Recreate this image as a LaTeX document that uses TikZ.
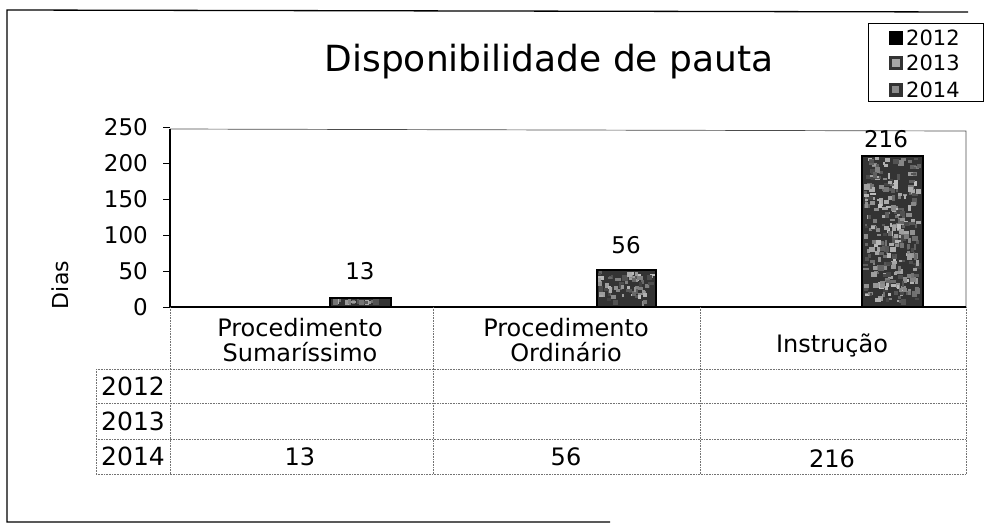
\documentclass[tikz,border=0pt]{standalone}
\usepackage{fontspec}
\setmainfont{DejaVu Sans}
\newcommand\texbar[5]{%
  \fill[black!80] (#1,#2) rectangle (#3,#4);
  \foreach \k in {1,...,#5}{%
    \pgfmathsetmacro\xa{#1+1+rnd*(#3-#1-7)}%
    \pgfmathsetmacro\ya{#4+1+rnd*(#2-#4-7)}%
    \pgfmathsetmacro\gg{int(25+rnd*50)}%
    \fill[black!\gg] (\xa,\ya) rectangle ++(2+rnd*4,2+rnd*4);
  }%
  \draw[line width=1.3pt] (#1,#2) rectangle (#3,#4);
}
\begin{document}
\begin{tikzpicture}[x=1pt,y=-1pt,
  tbl/.style={black!55, line width=0.6pt, densely dotted},
  axlab/.style={font=\fontsize{23}{23}\selectfont, anchor=east, inner sep=0pt},
  vallab/.style={font=\fontsize{23}{23}\selectfont, inner sep=0pt},
  tval/.style={font=\fontsize{24}{24}\selectfont, inner sep=0pt},
  cat/.style={font=\fontsize{24}{25}\selectfont, align=center, inner sep=0pt},
  yr/.style={font=\fontsize{25}{25}\selectfont, anchor=west, inner sep=0pt},
  leg/.style={font=\fontsize{21}{21}\selectfont, anchor=west, inner sep=0pt}]
\useasboundingbox (0,0) rectangle (988,528);
\pgfmathsetseed{11}
% outer frame
\draw[line width=1.3pt] (968,12) -- (7,10) -- (7,522) -- (610,522);
% title
\node[font=\fontsize{36}{36}\selectfont, inner sep=0pt] (title) at (549,62) {Disponibilidade de pauta};
% legend
\draw[line width=0.8pt] (868,23) rectangle (983,101);
\fill[black] (889,31) rectangle (903,45);
\fill[black!80] (889,56) rectangle (903,70);
\fill[black!35] (892,59) rectangle (900,67);
\fill[black!80] (889,83) rectangle (903,97);
\fill[black!45] (892,86) rectangle (899,93);
\node[leg] (l12) at (906,38) {2012};
\node[leg] (l13) at (906,63) {2013};
\node[leg] (l14) at (906,90) {2014};
% plot area
\coordinate (pa) at (170,129);
\coordinate (pb) at (966,307);
\draw[black!70, line width=0.7pt] (170,129) -- (966,131) -- (966,307);
\draw[line width=1.3pt] (170,129) -- (170,307) -- (966,307);
% y ticks and labels
\foreach \v [count=\i from 0] in {0,50,100,150,200,250}{
  \draw[line width=0.8pt] (163,307-36*\i) -- (170,307-36*\i);
  \node[axlab] (y\v) at (148,307-36*\i) {\v};
}
\node[rotate=90, font=\fontsize{22}{22}\selectfont, inner sep=0pt] (dias) at (60,285) {Dias};
% bars
\texbar{330}{307}{391}{298}{18}
\texbar{597}{307}{656}{270}{70}
\texbar{862}{307}{923}{156}{300}
% value labels
\node[vallab] (v1) at (360,271) {13};
\node[vallab] (v2) at (626,245) {56};
\node[vallab] (v3) at (886,139) {216};
% table
\foreach \yy in {369,403,439,474}{ \draw[tbl] (96,\yy) -- (966,\yy); }
\draw[tbl] (96,369) -- (96,474);
\foreach \xx in {170,433,700,966}{ \draw[tbl] (\xx,307) -- (\xx,474); }
\node[cat] (c1) at (300,340) {Procedimento\\Sumaríssimo};
\node[cat] (c2) at (566,340) {Procedimento\\Ordinário};
\node[cat] (c3) at (832,345) {Instrução};
\node[yr] (r12) at (101,386) {2012};
\node[yr] (r13) at (101,421) {2013};
\node[yr] (r14) at (101,456) {2014};
\node[tval] (t1) at (300,457) {13};
\node[tval] (t2) at (566,457) {56};
\node[tval] (t3) at (832,459) {216};
\end{tikzpicture}
\end{document}
